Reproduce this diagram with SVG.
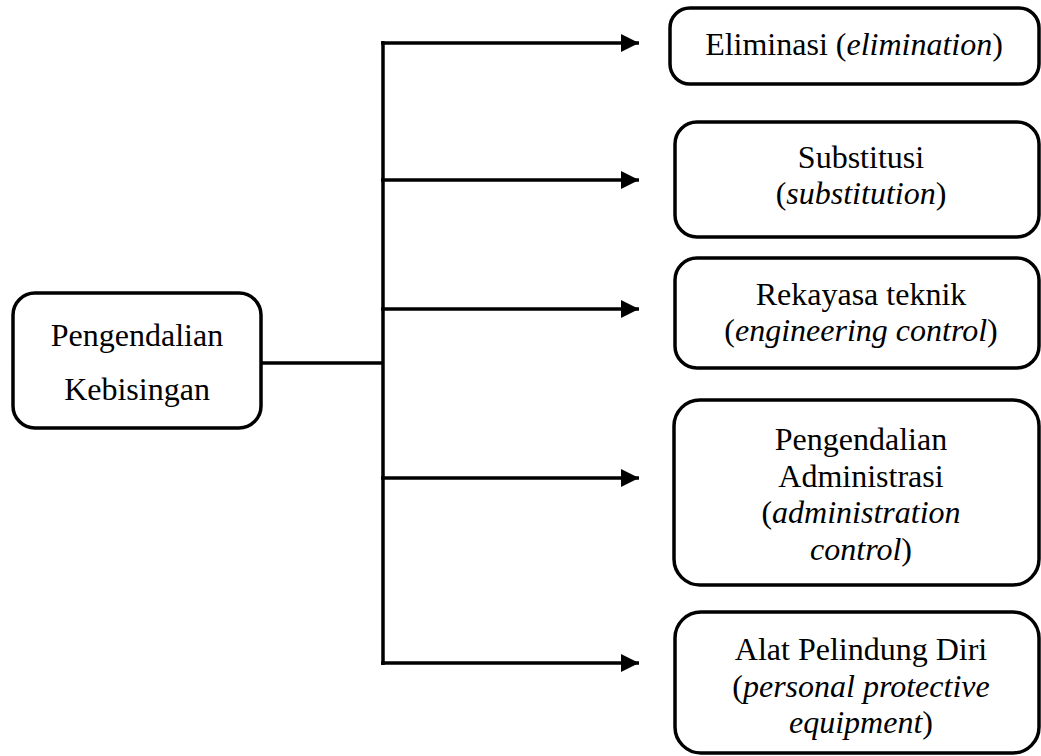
<svg xmlns="http://www.w3.org/2000/svg" width="1041" height="756" viewBox="0 0 1041 756">
<defs>
<style>
.box{fill:#fff;stroke:#000;stroke-width:3.5}
.t{font-family:"Liberation Serif","Times New Roman",serif;font-size:32px;fill:#000;text-anchor:middle}
.i{font-style:italic}
.ln{stroke:#000;stroke-width:3.5;fill:none}
</style>
<marker id="ah" markerWidth="20" markerHeight="20" refX="18" refY="9" orient="auto" markerUnits="userSpaceOnUse">
<path d="M0,0 L18,9 L0,18 Z" fill="#000"/>
</marker>
</defs>
<rect width="1041" height="756" fill="#fff"/>
<g id="connectors">
<line class="ln" x1="261" y1="363" x2="383" y2="363"/>
<line class="ln" x1="383" y1="41" x2="383" y2="665"/>
<line class="ln" x1="381" y1="43" x2="639" y2="43" marker-end="url(#ah)"/>
<line class="ln" x1="381" y1="180" x2="639" y2="180" marker-end="url(#ah)"/>
<line class="ln" x1="381" y1="309" x2="639" y2="309" marker-end="url(#ah)"/>
<line class="ln" x1="381" y1="478" x2="639" y2="478" marker-end="url(#ah)"/>
<line class="ln" x1="381" y1="663" x2="639" y2="663" marker-end="url(#ah)"/>
</g>
<g id="root">
<rect class="box" x="13" y="293" width="248" height="135" rx="22"/>
<text class="t" x="137" y="346">Pengendalian</text>
<text class="t" x="137" y="400">Kebisingan</text>
</g>
<g id="elimination">
<rect class="box" x="670" y="8" width="369" height="76" rx="20"/>
<text class="t" x="854" y="55">Eliminasi (<tspan class="i">elimination</tspan>)</text>
</g>
<g id="substitution">
<rect class="box" x="675" y="122" width="364" height="115" rx="22"/>
<text class="t" x="861" y="168">Substitusi</text>
<text class="t" x="861" y="204">(<tspan class="i">substitution</tspan>)</text>
</g>
<g id="engineering">
<rect class="box" x="675" y="258" width="364" height="110" rx="22"/>
<text class="t" x="861" y="305">Rekayasa teknik</text>
<text class="t" x="861" y="341">(<tspan class="i">engineering control</tspan>)</text>
</g>
<g id="administration">
<rect class="box" x="674" y="400" width="365" height="185" rx="26"/>
<text class="t" x="861" y="450">Pengendalian</text>
<text class="t" x="861" y="487">Administrasi</text>
<text class="t" x="861" y="523">(<tspan class="i">administration</tspan></text>
<text class="t" x="861" y="560"><tspan class="i">control</tspan>)</text>
</g>
<g id="ppe">
<rect class="box" x="675" y="612" width="364" height="141" rx="26"/>
<text class="t" x="861" y="660">Alat Pelindung Diri</text>
<text class="t" x="861" y="697">(<tspan class="i">personal protective</tspan></text>
<text class="t" x="861" y="733"><tspan class="i">equipment</tspan>)</text>
</g>
</svg>
